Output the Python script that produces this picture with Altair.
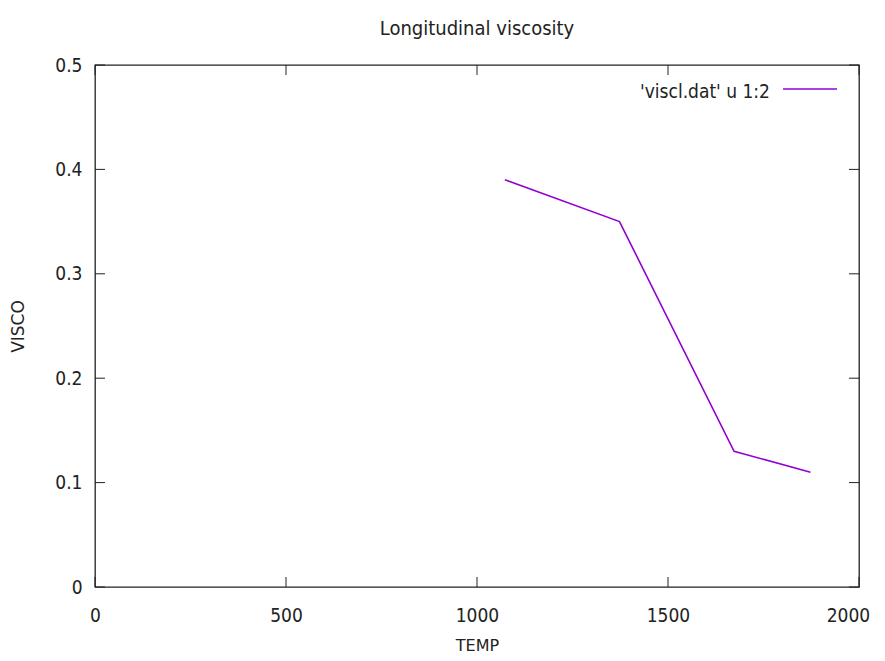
import altair as alt
import pandas as pd

# data
temp = [1073, 1373, 1673, 1873]
visco = [0.39, 0.35, 0.13, 0.11]
x_ticks = [0, 500, 1000, 1500, 2000]
y_ticks = [0, 0.1, 0.2, 0.3, 0.4, 0.5]
series_label = "'viscl.dat' u 1:2"

W, H = 764, 522
FONT = "DejaVu Sans Condensed"
TFONT = "DejaVu Sans"
LINE_COLOR = "#9400d3"
INK = "#222222"

df = pd.DataFrame({"TEMP": temp, "VISCO": visco})
dfx = pd.DataFrame({"v": x_ticks})
dfy = pd.DataFrame({"v": y_ticks})

xs = alt.Scale(domain=[0, 2000], nice=False, zero=False)
ys = alt.Scale(domain=[0, 0.5], nice=False, zero=False)

xaxis = alt.Axis(values=x_ticks, ticks=False, domain=False, grid=False, format="d",
                 labelPadding=19, labelFontSize=19, labelFont=FONT, labelColor=INK,
                 labelOffset={"condition": {"test": "datum.value >= 2000", "value": -11}, "value": 0},
                 title="TEMP", titleFont=TFONT, titleFontSize=16, titleFontWeight="normal",
                 titlePadding=12, titleColor=INK, labelFlush=False)
yaxis = alt.Axis(values=y_ticks, ticks=False, domain=False, grid=False,
                 labelPadding=13, labelFontSize=19, labelFont=FONT, labelColor=INK,
                 format=".1~f",
                 title="VISCO", titleFont=TFONT, titleFontSize=17, titleFontWeight="normal",
                 titlePadding=27, titleColor=INK, labelFlush=False)

line = alt.Chart(df).mark_line(color=LINE_COLOR, strokeWidth=1.6).encode(
    x=alt.X("TEMP:Q", scale=xs, axis=xaxis),
    y=alt.Y("VISCO:Q", scale=ys, axis=yaxis),
)

tick_len = 10
xt_bottom = alt.Chart(dfx).mark_rule(color=INK, strokeWidth=1).encode(
    x=alt.X("v:Q", scale=xs), y=alt.value(H), y2=alt.value(H - tick_len))
xt_top = alt.Chart(dfx).mark_rule(color=INK, strokeWidth=1).encode(
    x=alt.X("v:Q", scale=xs), y=alt.value(0), y2=alt.value(tick_len))
yt_left = alt.Chart(dfy).mark_rule(color=INK, strokeWidth=1).encode(
    y=alt.Y("v:Q", scale=ys), x=alt.value(0), x2=alt.value(tick_len))
yt_right = alt.Chart(dfy).mark_rule(color=INK, strokeWidth=1).encode(
    y=alt.Y("v:Q", scale=ys), x=alt.value(W), x2=alt.value(W - tick_len))

leg_df = pd.DataFrame({"label": [series_label]})
leg_text = alt.Chart(leg_df).mark_text(align="right", baseline="alphabetic", fontSize=19,
                                       font=FONT, color=INK).encode(
    text="label:N", x=alt.value(675), y=alt.value(33))
leg_line = alt.Chart(leg_df).mark_rule(color=LINE_COLOR, strokeWidth=1.6).encode(
    x=alt.value(688), x2=alt.value(742), y=alt.value(24))

chart = alt.layer(line, xt_bottom, xt_top, yt_left, yt_right, leg_text, leg_line).properties(
    width=W, height=H,
    title=alt.TitleParams("Longitudinal viscosity", font=FONT, fontSize=20,
                          fontWeight="normal", color=INK, offset=17),
    autosize=alt.AutoSizeParams(type="none"),
    padding={"left": 87, "top": 57, "right": 18, "bottom": 66},
    background="white",
).configure_view(stroke=INK, strokeWidth=1.3)

chart.save("out.html", embed_options={"renderer": "svg", "actions": False})
